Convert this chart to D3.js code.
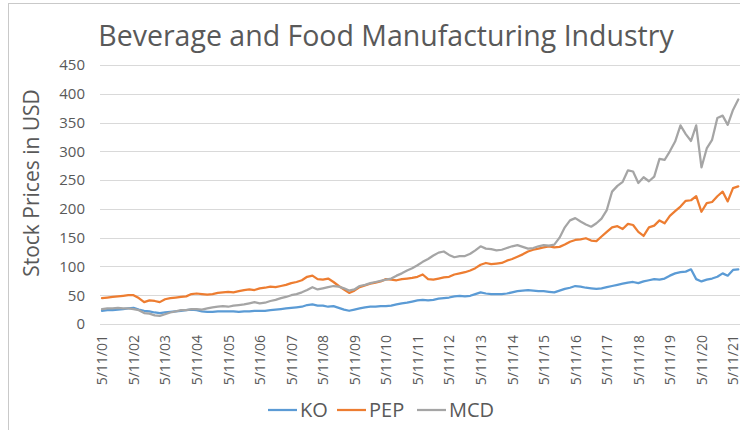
<!DOCTYPE html>
<html>
<head>
<meta charset="utf-8">
<script src="https://cdn.jsdelivr.net/npm/d3@7"></script>
<style>
  body { margin: 0; background: #fff; }
  text { font-family: "Open Sans", sans-serif; fill: #595959; }
</style>
</head>
<body>
<div id="chart"></div>
<script>
// date axis labels, one per year
var tickLabels = ["5/11/01","5/11/02","5/11/03","5/11/04","5/11/05","5/11/06","5/11/07",
  "5/11/08","5/11/09","5/11/10","5/11/11","5/11/12","5/11/13","5/11/14","5/11/15",
  "5/11/16","5/11/17","5/11/18","5/11/19","5/11/20","5/11/21"];

// first observation, then one every two months
var firstDate = "5/11/01";
var monthsPerStep = 2;

var seriesNames = ["KO", "PEP", "MCD"];

var ko = [
  23,24,24,25,26,27,  28,25,23,22,20,19,  20,21,22,23,24,25,  24,22,21,21,22,22,
  22,22,21,22,22,23,  23,23,24,25,26,27,  28,29,30,33,34,32,  32,30,31,28,25,23,
  25,27,29,30,30,31,  31,32,34,36,37,39,  41,42,41,42,44,45,  46,48,49,48,49,52,
  55,53,52,52,52,53,  55,57,58,59,58,57,  57,56,55,58,61,63,  66,65,63,62,61,62,
  64,66,68,70,72,73,  71,74,76,78,77,79,  84,88,90,91,95,78,  74,77,79,82,88,84,
  94,95];

var pep = [
  45,46,47,48,49,50,  50,45,38,41,40,38,  43,45,46,47,48,52,  53,52,51,52,54,55,
  56,55,57,59,60,59,  62,63,65,64,66,68,  71,73,76,82,84,78,  77,79,73,66,60,54,
  58,64,67,70,72,74,  78,77,76,78,79,80,  82,86,78,77,79,81,  82,86,88,90,93,97,
  103,106,104,105,106,110,  113,117,121,126,129,131,  133,135,133,134,138,143,  146,147,149,145,144,152,
  160,168,170,165,174,172,  160,153,168,171,180,175,  188,196,204,214,215,222,  195,210,212,222,230,213,
  236,239];

var mcd = [
  26,27,27,28,27,27,  26,24,19,18,15,14,  17,20,22,24,24,26,  26,25,27,29,30,31,
  30,32,33,34,36,38,  36,37,40,42,45,47,  50,52,55,59,64,60,  62,64,66,65,62,58,
  60,66,68,71,73,75,  77,79,84,88,93,97,  102,108,113,119,124,126,  120,116,118,118,122,128,
  135,131,130,128,129,132,  135,137,134,131,132,135,  137,136,138,150,168,180,  184,178,173,169,175,183,
  198,230,240,247,267,265,  245,255,248,256,287,285,  300,317,345,330,318,345,  272,305,320,358,362,346,
  372,390];

var yTicks = [0, 50, 100, 150, 200, 250, 300, 350, 400, 450];

var colors = ["#5b9bd5", "#ed7d31", "#a5a5a5"];

// chart dimensions
var margin = {top: 65, left: 100},
    width = 640,
    height = 259;

var svg = d3.select("#chart")
  .append("svg")
    .attr("width", 740)
    .attr("height", 430);

// outer chart frame
svg.append("rect")
  .attr("x", 8.5).attr("y", 3.5)
  .attr("width", 800).attr("height", 500)
  .attr("fill", "none")
  .attr("stroke", "#c9c9c9");

var g = svg.append("g")
  .attr("transform", "translate(" + margin.left + "," + margin.top + ")");

var parseDate = d3.timeParse("%m/%d/%y");
var tickDates = tickLabels.map(parseDate);
var start = parseDate(firstDate);

var x = d3.scaleTime()
  .domain([tickDates[0], tickDates[tickDates.length - 1]])
  .range([2, 633]);

var y = d3.scaleLinear()
  .domain([0, 450])
  .range([height, 0]);

// gridlines
g.append("g")
  .selectAll("line")
  .data(yTicks)
  .enter()
  .append("line")
    .attr("x1", 0)
    .attr("x2", width + 40)
    .attr("y1", function(d) { return Math.round(y(d)) + 0.5; })
    .attr("y2", function(d) { return Math.round(y(d)) + 0.5; })
    .attr("stroke", "#d9d9d9")
    .attr("stroke-width", 1);

// y-axis labels
var yAxis = g.append("g")
  .call(d3.axisLeft(y).tickValues(yTicks).tickSize(0).tickPadding(15));
yAxis.select(".domain").remove();
yAxis.selectAll("text")
  .style("font-size", "15px")
  .style("font-family", "'Open Sans', sans-serif")
  .attr("fill", "#595959");

// x-axis
var xAxis = g.append("g")
  .attr("transform", "translate(0," + height + ")")
  .call(d3.axisBottom(x).tickValues(tickDates).tickSize(0)
    .tickFormat(function(d, i) { return tickLabels[i]; }));
xAxis.select(".domain").remove();
xAxis.selectAll("text")
  .attr("transform", "rotate(-90)")
  .attr("x", -11)
  .attr("y", 0)
  .attr("dy", "0.35em")
  .style("text-anchor", "end")
  .style("font-size", "14px")
  .style("font-family", "'Open Sans', sans-serif")
  .attr("fill", "#595959");

// lines
var series = [ko, pep, mcd];
var line = d3.line()
  .x(function(d, i) { return x(d3.timeMonth.offset(start, i * monthsPerStep)); })
  .y(function(d) { return y(d); });

g.selectAll(".series")
  .data(series)
  .enter()
  .append("path")
    .attr("class", "series")
    .attr("d", line)
    .attr("fill", "none")
    .attr("stroke", function(d, i) { return colors[i]; })
    .attr("stroke-width", 2.25)
    .attr("stroke-linejoin", "round")
    .attr("stroke-linecap", "round");

// title
svg.append("text")
  .attr("x", 386)
  .attr("y", 46)
  .attr("text-anchor", "middle")
  .style("font-size", "28.5px")
  .text("Beverage and Food Manufacturing Industry");

// y-axis title
svg.append("text")
  .attr("transform", "translate(39,183)rotate(-90)")
  .attr("text-anchor", "middle")
  .style("font-size", "21px")
  .text("Stock Prices in USD");

// legend
var legendX = [268, 337, 417];
var legend = svg.append("g");
seriesNames.forEach(function(name, i) {
  legend.append("line")
    .attr("x1", legendX[i]).attr("x2", legendX[i] + 29)
    .attr("y1", 410).attr("y2", 410)
    .attr("stroke", colors[i])
    .attr("stroke-width", 2.25);
  legend.append("text")
    .attr("x", legendX[i] + 32)
    .attr("y", 410)
    .attr("dy", "0.35em")
    .style("font-size", "20px")
    .text(name);
});
</script>
</body>
</html>
